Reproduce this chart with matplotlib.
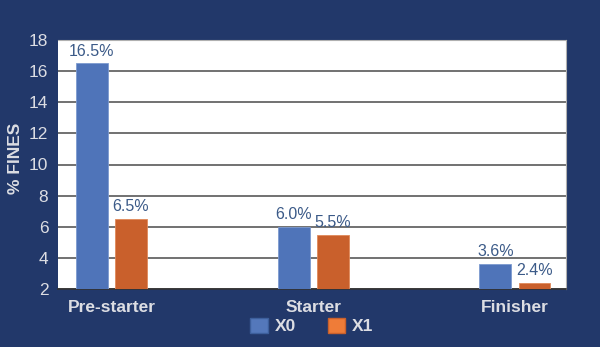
import matplotlib.pyplot as plt
import numpy as np

plt.rcParams["font.family"] = ["Liberation Sans", "DejaVu Sans"]

categories = ["Pre-starter", "Starter", "Finisher"]
x0_values = [16.5, 6.0, 3.6]
x1_values = [6.5, 5.5, 2.4]
series_names = ["X0", "X1"]
y_ticks = [2, 4, 6, 8, 10, 12, 14, 16, 18]

navy = "#22386a"
blue = "#4f74b9"
orange = "#c9602c"
light = "#dcdde3"
label_col = "#3b5a88"

fig = plt.figure(figsize=(6, 3.47), dpi=100, facecolor=navy)
ax = fig.add_axes([58 / 600, 58 / 347, 508 / 600, 249 / 347])
ax.set_facecolor("white")

x = np.arange(len(categories))
w = 0.158
off = 0.097
base = 2
b0 = ax.bar(x - off, np.array(x0_values) - base, w, bottom=base, color=blue,
            edgecolor="#7d9bd0", linewidth=0.6, zorder=3)
b1 = ax.bar(x + off, np.array(x1_values) - base, w, bottom=base, color=orange,
            edgecolor="#e0895a", linewidth=0.6, zorder=3)

for bars, vals in ((b0, x0_values), (b1, x1_values)):
    for r, v in zip(bars, vals):
        ax.text(r.get_x() + r.get_width() / 2, v + 0.3, f"{v}%",
                ha="center", va="bottom", fontsize=11.5, color=label_col)

ax.set_xlim(-0.265, 2.253)
ax.set_ylim(2, 18)
ax.set_yticks(y_ticks)
ax.set_xticks(x)
ax.set_xticklabels(categories, fontsize=12.5, fontweight="bold", color=light)
ax.tick_params(axis="y", length=0, labelsize=12.5, labelcolor=light, pad=7)
ax.tick_params(axis="x", length=0, pad=8)
ax.grid(axis="y", color="#4a4a4a", linewidth=1.1, zorder=1)
for s in ["top", "right"]:
    ax.spines[s].set_color("#b0b0b0")
ax.spines["left"].set_visible(False)
ax.spines["bottom"].set_color("#333333")
ax.spines["bottom"].set_linewidth(1.2)

fig.text(15 / 600, 1 - 158 / 347, "% FINES", rotation=90, ha="center", va="center",
         fontsize=12.5, fontweight="bold", color=light)

handles = [plt.Rectangle((0, 0), 1, 1, facecolor="#5478bb", edgecolor="#3d5f9c"),
           plt.Rectangle((0, 0), 1, 1, facecolor="#ef7c38", edgecolor="#c9602c")]
leg = fig.legend(handles, series_names, loc="center", bbox_to_anchor=(312 / 600, 21 / 347),
                 ncol=2, frameon=False, handlelength=1.0, handleheight=1.0,
                 columnspacing=1.85, handletextpad=0.4,
                 prop={"size": 12.5, "weight": "bold"})
for t in leg.get_texts():
    t.set_color(light)

fig.savefig("out.png", dpi=100, facecolor=navy)
